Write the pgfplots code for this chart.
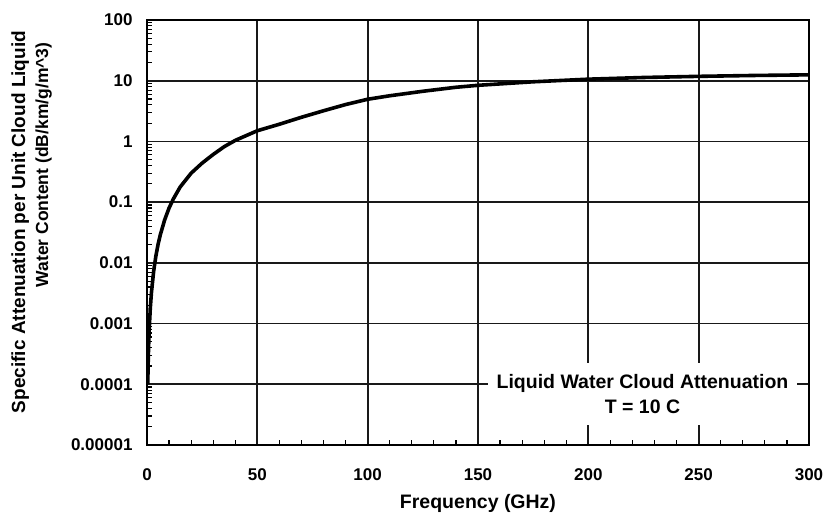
\documentclass[border=0pt]{standalone}
\usepackage{fontspec}
\setmainfont{Liberation Sans}
\usepackage{pgfplots}
\pgfplotsset{compat=1.18}

% Specific attenuation of liquid cloud water, T = 10 C
\pgfplotstableread{
f      k
0.35   0.0001
0.5    0.0002
0.7    0.00039
1      0.0008
1.5    0.0018
2      0.0032
3      0.0072
4      0.0128
5      0.020
6      0.0287
8      0.051
10     0.080
12     0.114
15     0.177
20     0.30
25     0.44
30     0.61
35     0.82
40     1.04
45     1.25
50     1.50
60     1.92
70     2.50
80     3.20
90     4.05
100    4.95
110    5.65
125    6.70
140    7.80
150    8.40
175    9.60
200    10.6
225    11.3
250    11.8
275    12.2
300    12.5
}\cloudatt

\begin{document}
\begin{tikzpicture}[x=1pt,y=1pt]
\useasboundingbox (0,0) rectangle (825,519);
\begin{axis}[
  at={(147pt,74pt)}, anchor=south west,
  scale only axis, width=662pt, height=425pt,
  xmin=0, xmax=300,
  ymode=log, ymin=1e-5, ymax=100,
  axis line style={black, line width=1.8pt},
  xtick={0,50,...,300},
  xticklabels={\textbf{0},\textbf{50},\textbf{100},\textbf{150},\textbf{200},\textbf{250},\textbf{300}},
  minor xtick={10,20,30,40,60,70,80,90,110,120,130,140,160,170,180,190,210,220,230,240,260,270,280,290},
  ytick={1e-5,1e-4,1e-3,1e-2,1e-1,1,10,100},
  yticklabels={\textbf{0.00001},\textbf{0.0001},\textbf{0.001},\textbf{0.01},\textbf{0.1},\textbf{1},\textbf{10},\textbf{100}},
  minor ytick={2e-5,3e-5,4e-5,5e-5,6e-5,7e-5,8e-5,9e-5,
               2e-4,3e-4,4e-4,5e-4,6e-4,7e-4,8e-4,9e-4,
               2e-3,3e-3,4e-3,5e-3,6e-3,7e-3,8e-3,9e-3,
               2e-2,3e-2,4e-2,5e-2,6e-2,7e-2,8e-2,9e-2,
               0.2,0.3,0.4,0.5,0.6,0.7,0.8,0.9,
               2,3,4,5,6,7,8,9,
               20,30,40,50,60,70,80,90},
  tick pos=left,
  tick align=inside,
  major tick length=0pt,
  minor tick length=5pt,
  minor tick style={black, line width=1.2pt},
  grid=major,
  major grid style={black!90, line width=1.8pt},
  tick label style={font=\fontsize{17}{19}\selectfont},
  xticklabel style={yshift=-20pt},
  yticklabel style={xshift=-11pt},
  xlabel={\textbf{Frequency (GHz)}},
  xlabel style={font=\fontsize{19.5}{22}\selectfont, yshift=-7pt},
]
\addplot[black, line width=3.6pt, line join=round] table[x=f, y=k] {\cloudatt};
\end{axis}

% two-line vertical axis title
\node[rotate=90, anchor=base, font=\fontsize{19}{22}\selectfont\bfseries]
  at (25,297) {Specific Attenuation per Unit Cloud Liquid};
\node[rotate=90, anchor=base, font=\fontsize{17.5}{21}\selectfont\bfseries]
  at (48,354) {Water Content (dB/km/g/m\^{}3)};

% boxed caption inside the plot area
\node[fill=white, minimum width=309pt, minimum height=62pt, align=center,
      font=\fontsize{19.5}{25}\selectfont\bfseries, inner sep=0pt]
  at (642.5,125) {Liquid Water Cloud Attenuation\\T = 10 C};
\end{tikzpicture}
\end{document}
